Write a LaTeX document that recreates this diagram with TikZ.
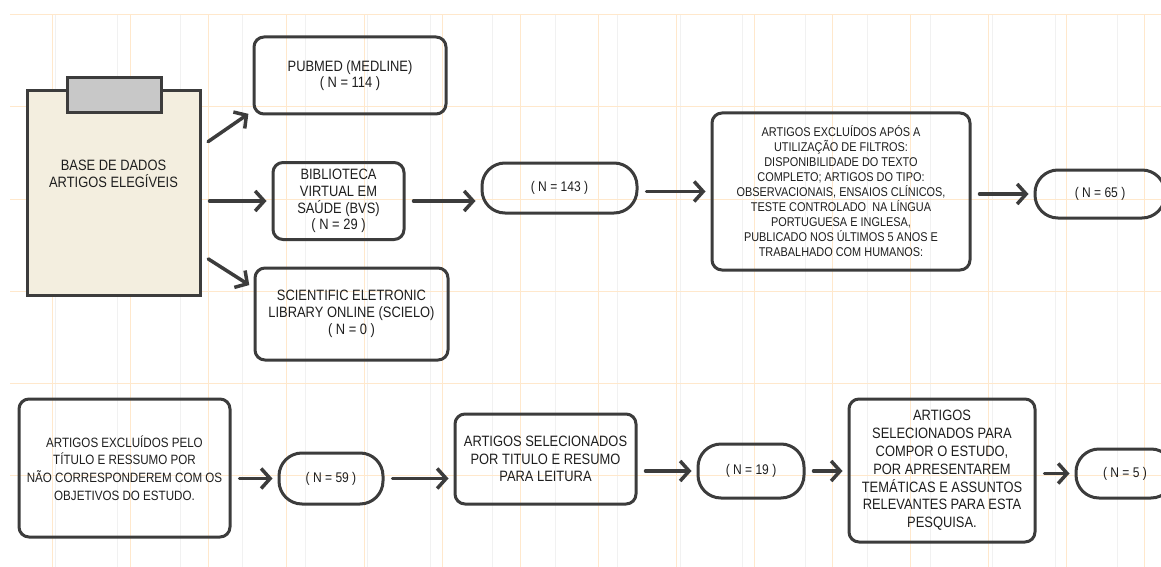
\documentclass[tikz,border=0pt]{standalone}
\usepackage{fontspec}
\setmainfont[FakeStretch=0.86]{Liberation Sans}
\usetikzlibrary{arrows.meta}
\definecolor{edge}{HTML}{3C3C3C}
\definecolor{paper}{HTML}{F3EEDF}
\definecolor{clipgray}{HTML}{C8C8C8}
\definecolor{gridmajor}{HTML}{FFE8CC}
\definecolor{gridminor}{HTML}{F1F1F1}
\definecolor{ink}{HTML}{1E1E1E}

\begin{document}
\begin{tikzpicture}[x=1pt, y=-1pt,
    box/.style={draw=edge, line width=3pt, rounded corners=10pt, align=center, inner sep=0pt, text=ink, font=\fontsize{15}{16.7}\selectfont},
    pill/.style={draw=edge, line width=3pt, rounded corners=23pt, align=center, inner sep=0pt, text=ink, font=\fontsize{14}{16}\selectfont},
    arr/.style={edge, line width=3.5pt, line cap=round, -{Straight Barb[length=9pt,width=20pt]}, shorten <=8pt, shorten >=5pt}]
    \useasboundingbox (0,0) rectangle (1161,567);
    \clip (0,0) rectangle (1161,567);
    \fill[white] (0,0) rectangle (1161,567);
    % grid
    \foreach \x in {55,117.5,...,1161} \draw[gridminor, line width=0.8pt] (\x,15) -- (\x,567);
    \foreach \x in {52,130,...,1161} \draw[gridmajor, line width=1pt] (\x,15) -- (\x,567);
    \foreach \y in {15,107,...,567} \draw[gridmajor, line width=1pt] (10,\y) -- (1161,\y);

    % clipboard
    \node[draw=edge, fill=paper, line width=3pt, minimum width=173pt, minimum height=204pt] (board) at (113.5,193) {};
    \node[draw=edge, fill=clipgray, line width=3pt, minimum width=94pt, minimum height=35pt] (clip) at (114,95.5) {};
    \node[align=center, text=ink, font=\fontsize{15}{16.7}\selectfont] (boardtext) at (113.5,174) {BASE DE DADOS\\ARTIGOS ELEGÍVEIS};

    \node[box, minimum width=192pt, minimum height=77pt] (pubmed) at (350,75.5) {PUBMED (MEDLINE)\\( N = 114 )};
    \node[box, minimum width=131pt, minimum height=77pt] (bvs) at (338.5,201) {BIBLIOTECA\\VIRTUAL EM\\SAÚDE (BVS)\\( N = 29 )};
    \node[box, minimum width=193pt, minimum height=92pt] (scielo) at (351.5,314) {SCIENTIFIC ELETRONIC\\LIBRARY ONLINE (SCIELO)\\( N = 0 )};
    \node[pill, minimum width=155pt, minimum height=50pt] (n143) at (559.5,188) {( N = 143 )};
    \node[box, minimum width=258pt, minimum height=157pt, font=\fontsize{12.7}{15}\selectfont] (filtro) at (841,191.5)
        {ARTIGOS EXCLUÍDOS APÓS A\\UTILIZAÇÃO DE FILTROS:\\DISPONIBILIDADE DO TEXTO\\COMPLETO; ARTIGOS DO TIPO:\\OBSERVACIONAIS, ENSAIOS CLÍNICOS,\\TESTE CONTROLADO \ NA LÍNGUA\\PORTUGUESA E INGLESA,\\PUBLICADO NOS ÚLTIMOS 5 ANOS E\\TRABALHADO COM HUMANOS:};
    \node[pill, minimum width=130pt, minimum height=48pt] (n65) at (1100,194) {( N = 65 )};

    \node[box, minimum width=211pt, minimum height=138pt, font=\fontsize{13.5}{17.6}\selectfont] (excl) at (124.5,468)
        {ARTIGOS EXCLUÍDOS PELO\\TÍTULO E RESSUMO POR\\NÃO CORRESPONDEREM COM OS\\OBJETIVOS DO ESTUDO.};
    \node[pill, minimum width=104pt, minimum height=51pt] (n59) at (331,478.5) {( N = 59 )};
    \node[box, minimum width=181pt, minimum height=90pt, font=\fontsize{15}{17.6}\selectfont] (sel) at (545.5,459)
        {ARTIGOS SELECIONADOS\\POR TITULO E RESUMO\\PARA LEITURA};
    \node[pill, minimum width=106pt, minimum height=54pt] (n19) at (751,471) {( N = 19 )};
    \node[box, minimum width=186pt, minimum height=143pt, font=\fontsize{15}{17.8}\selectfont] (comp) at (942,470.5)
        {ARTIGOS\\SELECIONADOS PARA\\COMPOR O ESTUDO,\\POR APRESENTAREM\\TEMÁTICAS E ASSUNTOS\\RELEVANTES PARA ESTA\\PESQUISA.};
    \node[pill, minimum width=98pt, minimum height=49pt] (n5) at (1125,473.5) {( N = 5 )};

    % connectors
    \draw[arr] (board.28) -- (pubmed.200);
    \draw[arr] (board.east |- bvs.west) -- (bvs.west);
    \draw[arr] (board.-35) -- (scielo.165);
    \draw[arr] (bvs.east) -- (bvs.east -| n143.west);
    \draw[arr] (filtro.west -| n143.east) -- (filtro.west);
    \draw[arr] (n65.west -| filtro.east) -- (n65.west);
    \draw[arr] (n59.west -| excl.east) -- (n59.west);
    \draw[arr] (n59.east) -- (n59.east -| sel.west);
    \draw[arr] (n19.west -| sel.east) -- (n19.west);
    \draw[arr] (n19.east) -- (n19.east -| comp.west);
    \draw[arr] (n5.west -| comp.east) -- (n5.west);
\end{tikzpicture}
\end{document}
